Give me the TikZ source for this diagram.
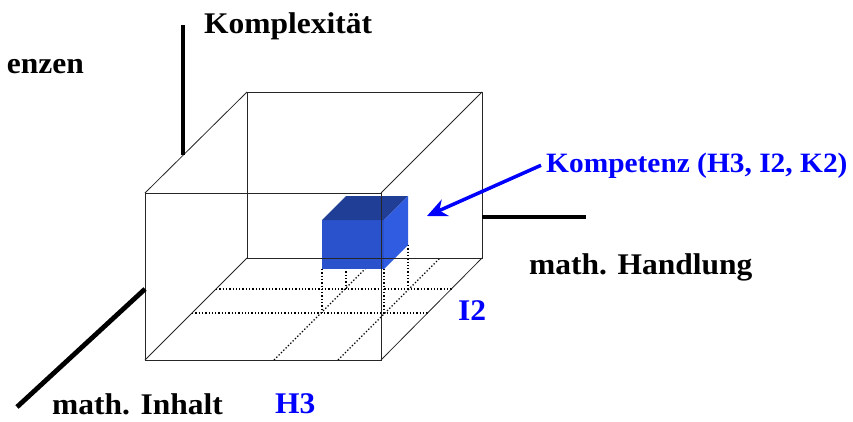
\documentclass[tikz,border=0pt]{standalone}
\usepackage{fontspec}
\setmainfont{Liberation Serif}[FakeStretch=1.05]
\usetikzlibrary{arrows.meta}

\definecolor{wuerfelvorn}{RGB}{42,82,204}
\definecolor{wuerfeloben}{RGB}{33,62,150}
\definecolor{wuerfelseite}{RGB}{48,92,226}

\begin{document}
\begin{tikzpicture}[
    x=1pt, y=-1pt,
    kante/.style={draw=black!85, line width=0.8pt},
    raster/.style={dash pattern=on 1.3pt off 2pt, line width=1.3pt},
    achse/.style={line width=4.8pt},
    beschriftung/.style={anchor=base west, inner sep=0pt, font=\fontsize{30}{33}\selectfont\bfseries},
    stufe/.style={beschriftung, text=blue},
    pfeil/.style={draw=blue, line width=3.5pt, -{Stealth[length=20pt,width=18pt]}}
]
\useasboundingbox (0,0) rectangle (853,421);

% Ecken des Quaders
\coordinate (v1) at (145,360);
\coordinate (v2) at (381,360);
\coordinate (v3) at (381,193);
\coordinate (v4) at (145,193);
\coordinate (h1) at (247,258);
\coordinate (h2) at (482,258);
\coordinate (h3) at (482,92);
\coordinate (h4) at (247,92);

% Raster am Boden
\draw[raster] (192,313) -- (428,313);
\draw[raster] (216,289) -- (452,289);
\draw[raster] (274,360) -- (376,258);
\draw[raster] (338,360) -- (440,258);
\draw[raster] (322,269) -- (322,313);
\draw[raster] (346,245) -- (346,289);
\draw[raster] (384,269) -- (384,313);
\draw[raster] (408,245) -- (408,289);

% Kompetenzwuerfel
\fill[wuerfelvorn] (322,220) rectangle (384,269);
\fill[wuerfeloben] (322,220) -- (346,196) -- (408,196) -- (384,220) -- cycle;
\fill[wuerfelseite] (384,220) -- (408,196) -- (408,245) -- (384,269) -- cycle;

% Quader
\draw[kante] (v1) -- (v2) -- (v3) -- (v4) -- cycle;
\draw[kante] (h1) -- (h2) -- (h3) -- (h4) -- cycle;
\draw[kante] (v1) -- (h1);
\draw[kante] (v2) -- (h2);
\draw[kante] (v3) -- (h3);
\draw[kante] (v4) -- (h4);

% Achsen
\coordinate (kanf) at (183,155);
\coordinate (kend) at (183,25);
\coordinate (hanf) at (482,217);
\coordinate (hend) at (586,217);
\coordinate (ianf) at (145,289);
\coordinate (iend) at (17,407);
\draw[achse] (kanf) -- (kend);
\draw[achse] (hanf) -- (hend);
\draw[achse] (ianf) -- (iend);

% Beschriftungen
\node[beschriftung] (komplex) at (204,33) {Komplexität};
\node[beschriftung, anchor=base east] (kompz) at (84,73) {enzen};
\node[beschriftung] (handlung) at (529,274) {math. Handlung};
\node[beschriftung] (inhalt) at (52,414) {math. Inhalt};
\node[stufe] (hstufe) at (275,413) {H3};
\node[stufe] (istufe) at (458,320) {I2};
\node[stufe, font=\fontsize{28}{31}\selectfont\bfseries] (komp) at (546,172) {Kompetenz (H3, I2, K2)};

% Pfeil
\coordinate (ziel) at (427,216);
\draw[pfeil] ([xshift=-5pt]komp.west) -- (ziel);

\end{tikzpicture}
\end{document}
